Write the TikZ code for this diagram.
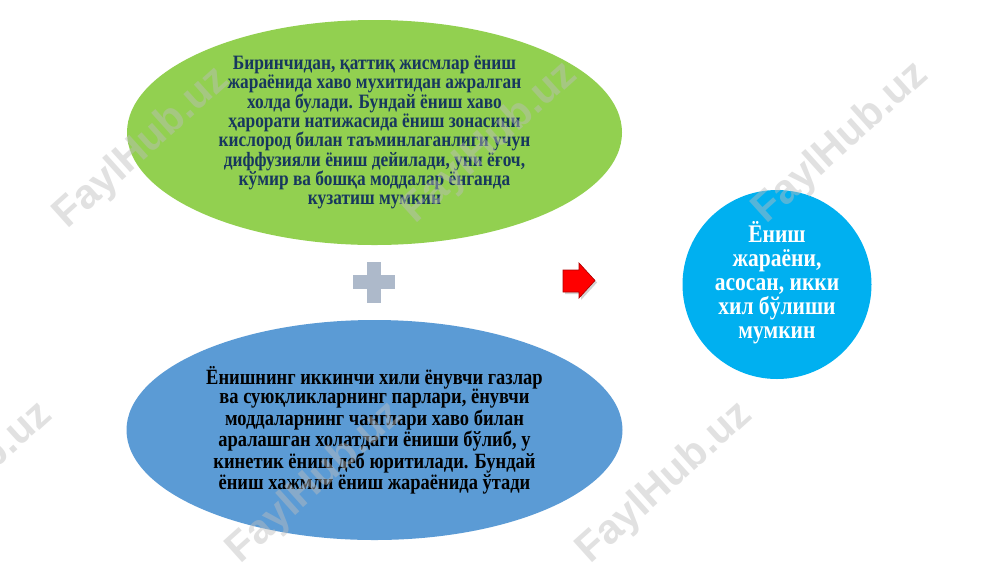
\documentclass[tikz,border=0pt]{standalone}
\usepackage{fontspec}
\setmainfont{Liberation Serif}
\newfontfamily\condserif{Liberation Serif}[FakeStretch=0.85]
\newfontfamily\wmfont{Liberation Sans}
\usetikzlibrary{shapes.geometric,shadows}
\definecolor{gfill}{HTML}{92D050}
\definecolor{bfill}{HTML}{5B9BD5}
\definecolor{cfill}{HTML}{00B0F0}
\definecolor{navytext}{RGB}{23,55,94}
\definecolor{plusc}{HTML}{ADB9CA}
\definecolor{arrowred}{HTML}{FF0000}
\definecolor{arrowdark}{HTML}{B00000}
\definecolor{wmgray}{HTML}{BDBDBD}
\begin{document}
\begin{tikzpicture}[x=0.75pt,y=-0.75pt,
  blob/.style={ellipse, inner sep=0pt, draw=none},
  greentext/.style={align=center, inner sep=0pt, text=navytext,
    font=\condserif\bfseries\fontsize{15.3pt}{14.5pt}\selectfont},
  bluetext/.style={align=center, inner sep=0pt, text=black,
    font=\condserif\bfseries\fontsize{16.3pt}{14.7pt}\selectfont},
  circtext/.style={align=center, inner sep=0pt, text=white,
    font=\condserif\bfseries\fontsize{19pt}{18pt}\selectfont},
  wm/.style={font=\wmfont\bfseries\fontsize{31pt}{31pt}\selectfont,
    text=wmgray, text opacity=0.45, rotate=42, inner sep=0pt}]
\useasboundingbox (0,0) rectangle (1000,562);
\fill[white] (0,0) rectangle (1000,562);

% shapes
\node[blob, fill=gfill, minimum width={495*0.75pt}, minimum height={225*0.75pt}] (g) at (374.5,132.5) {};
\node[blob, fill=bfill, minimum width={496*0.75pt}, minimum height={220*0.75pt}] (b) at (374.5,430) {};
\node[circle, fill=cfill, inner sep=0pt, minimum size={189*0.75pt}] (c) at (777,284.5) {};

% texts
\node[greentext] (gt) at (g.center) {%
Биринчидан, қаттиқ жисмлар ёниш\\
жараёнида хаво мухитидан ажралган\\
холда булади. Бундай ёниш хаво\\
ҳарорати натижасида ёниш зонасини\\
кислород билан таъминлаганлиги учун\\
диффузияли ёниш дейилади, уни ёғоч,\\
кўмир ва бошқа моддалар ёнганда\\
кузатиш мумкин};
\node[bluetext] (bt) at (b.center) {%
Ёнишнинг иккинчи хили ёнувчи газлар\\
ва суюқликларнинг парлари, ёнувчи\\
моддаларнинг чанглари хаво билан\\
аралашган холатдаги ёниши бўлиб, у\\
кинетик ёниш деб юритилади. Бундай\\
ёниш хажмли ёниш жараёнида ўтади};
\node[circtext] (ct) at ([yshift=1pt]c.center) {%
Ёниш\\
жараёни,\\
асосан, икки\\
хил бўлиши\\
мумкин};

% plus sign
\fill[plusc] (353,275) rectangle (395,289);
\fill[plusc] (367,262) rectangle (381,303);

% red arrow
\filldraw[fill=arrowred, draw=arrowdark, line width=0.5pt,
  drop shadow={shadow xshift=1.5pt, shadow yshift=-1.5pt, opacity=0.35}]
  (563,270) -- (579,270) -- (579,263) -- (595,280.5) -- (579,298) -- (579,292) -- (563,292) -- cycle;

% watermarks
\node[wm] (w1) at (142,148) {FaylHub.uz};
\node[wm] (w2) at (490,143) {FaylHub.uz};
\node[wm] (w3) at (841,143) {FaylHub.uz};
\node[wm] (w4) at (-35,483) {FaylHub.uz};
\node[wm] (w5) at (315,483) {FaylHub.uz};
\node[wm] (w6) at (665,483) {FaylHub.uz};
\end{tikzpicture}
\end{document}
